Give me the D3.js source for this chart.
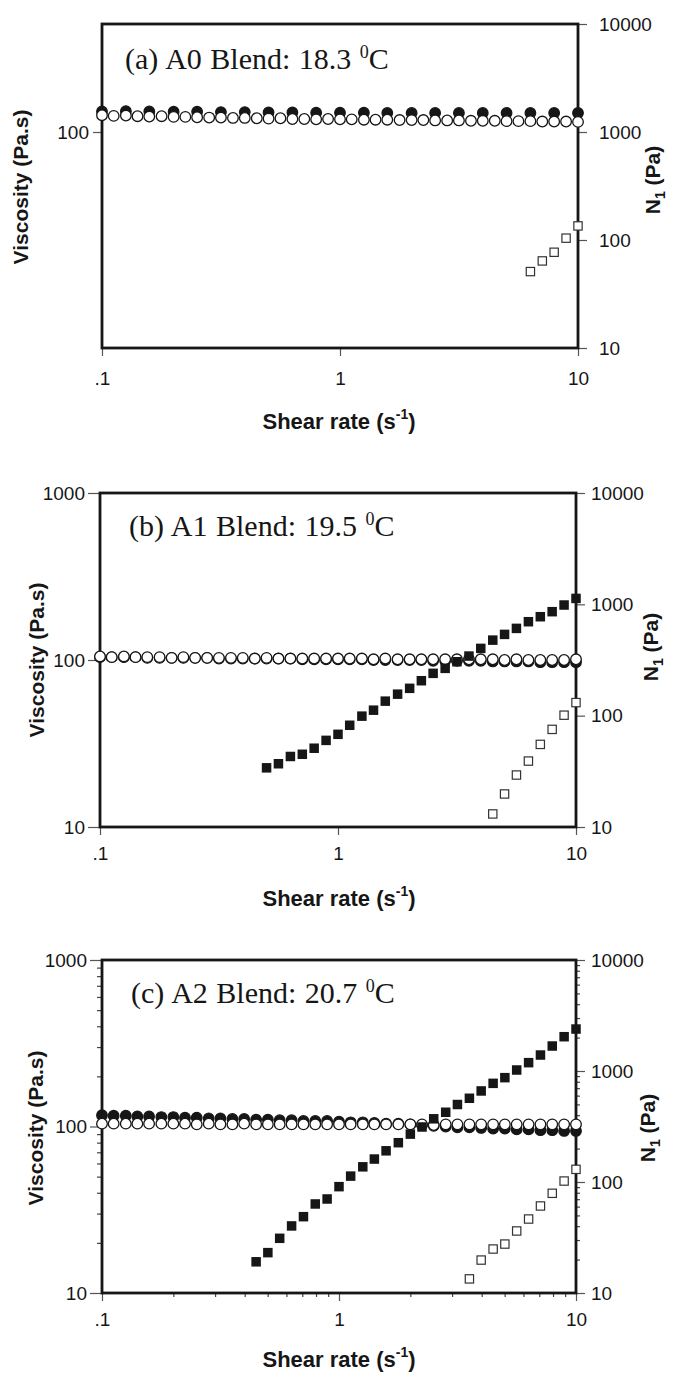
<!DOCTYPE html>
<html><head><meta charset="utf-8">
<script src="https://cdn.jsdelivr.net/npm/d3@7"></script>
<style>
body{margin:0;background:#fff}
svg{display:block}
text{white-space:pre}
</style>
</head><body>
<svg id="chart" width="674" height="1373"></svg>
<script>
// ---------------- DATA ----------------
const xTicks = [0.1, 1, 10];
const xTickLabels = [".1", "1", "10"];
const rightTicks = [10, 100, 1000, 10000];
const leftTicksA = [100];
const leftTicksBC = [10, 100, 1000];

// shear rates (s^-1) at which points were measured
const rates = [0.1, 0.112, 0.126, 0.141, 0.158, 0.178, 0.2, 0.224, 0.251, 0.282,
  0.316, 0.355, 0.398, 0.447, 0.501, 0.562, 0.631, 0.708, 0.794, 0.891,
  1, 1.12, 1.26, 1.41, 1.58, 1.78, 2, 2.24, 2.51, 2.82,
  3.16, 3.55, 3.98, 4.47, 5.01, 5.62, 6.31, 7.08, 7.94, 8.91, 10];
const ratesCoarse = [0.1, 0.126, 0.158, 0.2, 0.251, 0.316, 0.398, 0.501, 0.631, 0.794,
  1, 1.26, 1.58, 2, 2.51, 3.16, 3.98, 5.01, 6.31, 7.94, 10];

// Panel (a) A0 blend
const aViscOpen = [143,141,142,140,139,140,138,138,137,136,136,135,135,134,133,134,132,132,131,132,
  131,131,130,130,130,129,129,129,128,128,128,127,127,127,126,126,126,125,125,125,124];
const aViscFilled = [155,156,155,154,154,153,153,152,152,151,151,151,150,150,150,150,150,150,150,150,150];
const aN1OpenRate = [6.31, 7.08, 7.94, 8.91, 10];
const aN1Open = [51, 64, 77, 104, 135];

// Panel (b) A1 blend
const bViscOpen = [105,104,105,104,104,104,103,104,103,103,103,103,103,102,103,102,102,102,102,102,
  102,102,102,101,102,101,101,101,101,101,101,101,101,101,100,101,100,100,100,100,101];
const bViscFilled = [104,104,104,104,103,103,103,103,103,103,102,102,102,102,102,102,102,101,101,101,
  101,101,101,100,100,100,100,100,99,99,99,99,99,98,98,98,98,97,97,97,97];
const bN1FilledRate = rates.slice(14);
const bN1Filled = [34,37,43,45,51,60,68,82,99,112,135,156,176,206,240,266,305,343,402,477,537,608,698,774,859,986,1130];
const bN1OpenRate = rates.slice(33);
const bN1Open = [13.1, 19.8, 29.3, 39.1, 55.2, 75.3, 101, 131];

// Panel (c) A2 blend
const cViscOpen = [104,104,104,104,104,104,104,104,103,104,103,103,104,103,103,103,103,103,103,103,
  103,103,103,103,103,103,103,103,102,103,103,103,103,103,103,103,103,103,103,103,103];
const cViscFilled = [117,116,116,115,115,114,114,113,113,112,112,111,111,110,110,109,109,108,108,108,
  107,106,106,105,104,104,103,102,101,100,99,99,98,97,97,96,96,95,95,94,94];
const cN1FilledRate = rates.slice(13);
const cN1Filled = [19.1,23.1,31.1,40.2,48.7,63.4,70.3,90.8,113,137,161,191,226,270,313,371,425,499,568,661,
  774,871,1021,1189,1393,1679,2037,2388];
const cN1OpenRate = rates.slice(31);
const cN1Open = [13.4, 19.8, 24.9, 27.6, 36.2, 46.4, 60.8, 79.1, 102, 130];

const titles = ["(a) A0 Blend: 18.3 ", "(b) A1 Blend: 19.5 ", "(c) A2 Blend: 20.7 "];

// ---------------- LAYOUT / STYLE ----------------
const SANS = "'Liberation Sans', Arial, Helvetica, sans-serif";
const SERIF = "'Liberation Serif', 'Times New Roman', Times, serif";
const INK = "#161616";

const panels = [
  { box:{l:102, r:578, t:24, b:348}, leftDomain:[1,1000], leftTicks:leftTicksA, leftPad:4, leftTick:9,
    rightPad:12, xPad:16, minor:false,
    title:{text:titles[0], x:125, y:69},
    yTitle:{x:28, y:187}, rTitle:{x:660, y:180}, xTitle:{x:339, y:429},
    circOpen:{x:rates, y:aViscOpen}, circFilled:{x:ratesCoarse, y:aViscFilled},
    sqFilled:null, sqOpen:{x:aN1OpenRate, y:aN1Open} },
  { box:{l:100, r:576, t:493, b:827}, leftDomain:[10,1000], leftTicks:leftTicksBC, leftPad:3, leftTick:12,
    rightPad:6, xPad:12, minor:false,
    title:{text:titles[1], x:129, y:536},
    yTitle:{x:44, y:660}, rTitle:{x:658, y:647}, xTitle:{x:339, y:906},
    circOpen:{x:rates, y:bViscOpen}, circFilled:{x:rates, y:bViscFilled},
    sqFilled:{x:bN1FilledRate, y:bN1Filled}, sqOpen:{x:bN1OpenRate, y:bN1Open} },
  { box:{l:102, r:576, t:960, b:1293}, leftDomain:[10,1000], leftTicks:leftTicksBC, leftPad:3, leftTick:12,
    rightPad:6, xPad:12, minor:true,
    title:{text:titles[2], x:131, y:1003},
    yTitle:{x:43, y:1128}, rTitle:{x:655, y:1128}, xTitle:{x:339, y:1367},
    circOpen:{x:rates, y:cViscOpen}, circFilled:{x:rates, y:cViscFilled},
    sqFilled:{x:cN1FilledRate, y:cN1Filled}, sqOpen:{x:cN1OpenRate, y:cN1Open} }
];

const svg = d3.select("#chart");
svg.append("rect").attr("width",674).attr("height",1373).attr("fill","#fff");

function minorValues(lo, hi){
  const out=[];
  for(let d=lo; d<hi; d*=10){ for(let m=2;m<=9;m++) out.push(d*m); }
  return out;
}

panels.forEach((p) => {
  const {l,r,t,b} = p.box;
  const g = svg.append("g");
  const x = d3.scaleLog().domain([0.1,10]).range([l,r]);
  const yL = d3.scaleLog().domain(p.leftDomain).range([b,t]);
  const yR = d3.scaleLog().domain([10,10000]).range([b,t]);

  // minor ticks (panel c)
  if(p.minor){
    const mx = g.append("g").attr("transform",`translate(0,${b})`)
      .call(d3.axisBottom(x).tickValues(minorValues(0.1,10)).tickFormat("").tickSize(4));
    const ml = g.append("g").attr("transform",`translate(${l},0)`)
      .call(d3.axisLeft(yL).tickValues(minorValues(10,1000)).tickFormat("").tickSize(5));
    const mr = g.append("g").attr("transform",`translate(${r},0)`)
      .call(d3.axisRight(yR).tickValues(minorValues(10,10000)).tickFormat("").tickSize(4));
    [mx,ml,mr].forEach(a=>{ a.select(".domain").remove(); a.selectAll("line").attr("stroke","#444").attr("stroke-width",1.2); });
  }

  // x axis
  const ax = g.append("g").attr("transform",`translate(0,${b})`)
    .call(d3.axisBottom(x).tickValues(xTicks).tickFormat((d,i)=>xTickLabels[i]).tickSize(8).tickPadding(p.xPad));
  // left axis
  const al = g.append("g").attr("transform",`translate(${l},0)`)
    .call(d3.axisLeft(yL).tickValues(p.leftTicks).tickFormat(d3.format("d")).tickSize(p.leftTick).tickPadding(p.leftPad));
  // right axis
  const ar = g.append("g").attr("transform",`translate(${r},0)`)
    .call(d3.axisRight(yR).tickValues(rightTicks).tickFormat(d3.format("d")).tickSize(9).tickPadding(p.rightPad));
  [ax,al,ar].forEach(a=>{
    a.select(".domain").remove();
    a.selectAll("line").attr("stroke","#555").attr("stroke-width",1.2);
    a.selectAll("text").attr("font-family",SANS).attr("font-size",19).attr("fill",INK);
  });

  // frame
  g.append("rect").attr("x",l).attr("y",t).attr("width",r-l).attr("height",b-t)
    .attr("fill","none").attr("stroke",INK).attr("stroke-width",2.8);

  // markers: filled circles, open circles, squares
  const R = 5.3, S = 9.5;
  g.append("g").selectAll("circle").data(p.circFilled.y).join("circle")
    .attr("cx",(d,i)=>x(p.circFilled.x[i])).attr("cy",d=>yL(d)).attr("r",R)
    .attr("fill",INK).attr("stroke",INK).attr("stroke-width",1.2);
  g.append("g").selectAll("circle").data(p.circOpen.y).join("circle")
    .attr("cx",(d,i)=>x(p.circOpen.x[i])).attr("cy",d=>yL(d)).attr("r",R)
    .attr("fill","#fff").attr("stroke",INK).attr("stroke-width",1.3);
  if(p.sqFilled){
    g.append("g").selectAll("rect").data(p.sqFilled.y).join("rect")
      .attr("x",(d,i)=>x(p.sqFilled.x[i])-S/2).attr("y",d=>yR(d)-S/2)
      .attr("width",S).attr("height",S).attr("fill",INK);
  }
  g.append("g").selectAll("rect").data(p.sqOpen.y).join("rect")
    .attr("x",(d,i)=>x(p.sqOpen.x[i])-S/2+0.6).attr("y",d=>yR(d)-S/2+0.6)
    .attr("width",S-1.2).attr("height",S-1.2).attr("fill","#fff").attr("stroke","#333").attr("stroke-width",1.2);

  // panel title
  const tt = g.append("text").attr("x",p.title.x).attr("y",p.title.y)
    .attr("font-family",SERIF).attr("font-size",30).attr("word-spacing",1).attr("fill",INK);
  tt.append("tspan").text(p.title.text);
  tt.append("tspan").attr("font-size",18).attr("dy",-11).text("0");
  tt.append("tspan").attr("dy",11).text("C");

  // axis titles
  const xt = g.append("text").attr("x",p.xTitle.x).attr("y",p.xTitle.y).attr("text-anchor","middle")
    .attr("font-family",SANS).attr("font-weight","bold").attr("font-size",22).attr("fill",INK);
  xt.append("tspan").text("Shear rate (s");
  xt.append("tspan").attr("font-size",14).attr("dy",-10).text("-1");
  xt.append("tspan").attr("dy",10).text(")");

  g.append("text").attr("transform",`translate(${p.yTitle.x},${p.yTitle.y}) rotate(-90)`)
    .attr("text-anchor","middle").attr("font-family",SANS).attr("font-weight","bold")
    .attr("font-size",21).attr("fill",INK).text("Viscosity (Pa.s)");

  const rt = g.append("text").attr("transform",`translate(${p.rTitle.x},${p.rTitle.y}) rotate(-90)`)
    .attr("text-anchor","middle").attr("font-family",SANS).attr("font-weight","bold")
    .attr("font-size",21).attr("fill",INK);
  rt.append("tspan").text("N");
  rt.append("tspan").attr("font-size",14).attr("dy",5).text("1");
  rt.append("tspan").attr("dy",-5).text(" (Pa)");
});
</script>
</body></html>
